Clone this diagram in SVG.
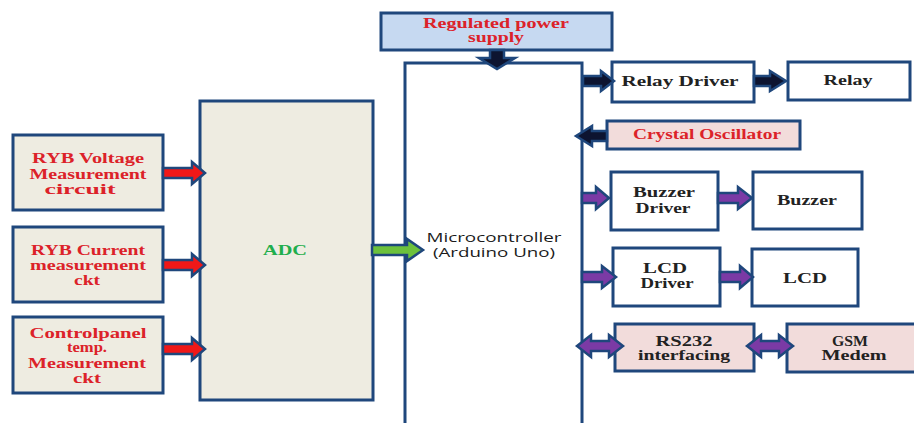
<svg xmlns="http://www.w3.org/2000/svg" width="914" height="423" viewBox="0 0 914 423">
<defs>
<style>
.box{stroke:#1f477c;stroke-width:3}
.gray{fill:#eeece1}
.white{fill:#ffffff}
.pink{fill:#f2dcdb}
.blue{fill:#c6d9f1}
.t{font-family:"Liberation Serif","Times New Roman",serif;font-weight:bold;font-size:14px;text-anchor:middle}
.red{fill:#dc2229}
.blk{fill:#222222}
.grn{fill:#1fae4c}
.sans{font-family:"Open Sans","Liberation Sans",Arial,sans-serif;font-size:12px;text-anchor:middle;fill:#1a1a1a}
.arr{stroke:#1f477c;stroke-width:2.5;stroke-linejoin:miter}
.ared{fill:#f01818}
.agrn{fill:#6cc13c}
.apur{fill:#7b3aa5}
.ablk{fill:#0d1430}
</style>
</defs>
<rect width="914" height="423" fill="#ffffff"/>

<g id="voltage">
<rect class="box gray" x="13" y="135" width="150" height="75"/>
<text class="t red" x="88" y="163" textLength="112" lengthAdjust="spacingAndGlyphs">RYB Voltage</text>
<text class="t red" x="88" y="179" textLength="117" lengthAdjust="spacingAndGlyphs">Measurement</text>
<text class="t red" x="80" y="194" textLength="71" lengthAdjust="spacingAndGlyphs">circuit</text>
</g>

<g id="current">
<rect class="box gray" x="13" y="227" width="150" height="75"/>
<text class="t red" x="88" y="255" textLength="114" lengthAdjust="spacingAndGlyphs">RYB Current</text>
<text class="t red" x="88" y="270" textLength="116" lengthAdjust="spacingAndGlyphs">measurement</text>
<text class="t red" x="87" y="285" textLength="26" lengthAdjust="spacingAndGlyphs">ckt</text>
</g>

<g id="temp">
<rect class="box gray" x="13" y="317" width="150" height="76"/>
<text class="t red" x="88" y="338" textLength="117" lengthAdjust="spacingAndGlyphs">Controlpanel</text>
<text class="t red" x="87" y="352" textLength="40" lengthAdjust="spacingAndGlyphs">temp.</text>
<text class="t red" x="87" y="368" textLength="118" lengthAdjust="spacingAndGlyphs">Measurement</text>
<text class="t red" x="87" y="383" textLength="28" lengthAdjust="spacingAndGlyphs">ckt</text>
</g>

<g id="adc">
<rect class="box gray" x="200" y="101" width="173" height="299"/>
<text class="t grn" x="285" y="255" font-size="14" textLength="44" lengthAdjust="spacingAndGlyphs">ADC</text>
</g>

<g id="power">
<rect class="box blue" x="381" y="13" width="231" height="37"/>
<text class="t red" x="496" y="28" font-size="13" textLength="146" lengthAdjust="spacingAndGlyphs">Regulated power</text>
<text class="t red" x="496" y="42" font-size="13" textLength="56" lengthAdjust="spacingAndGlyphs">supply</text>
</g>

<g id="micro">
<rect class="box white" x="405" y="63" width="177" height="380"/>
<text class="sans" x="494" y="242" textLength="135" lengthAdjust="spacingAndGlyphs">Microcontroller</text>
<text class="sans" x="494" y="257" textLength="122" lengthAdjust="spacingAndGlyphs">(Arduino Uno)</text>
</g>

<g id="relaydriver">
<rect class="box white" x="612" y="62" width="142" height="40"/>
<text class="t blk" x="680" y="86" textLength="117" lengthAdjust="spacingAndGlyphs">Relay Driver</text>
</g>

<g id="relay">
<rect class="box white" x="788" y="62" width="122" height="38"/>
<text class="t blk" x="848" y="85" textLength="49" lengthAdjust="spacingAndGlyphs">Relay</text>
</g>

<g id="crystal">
<rect class="box pink" x="607" y="121" width="193" height="28"/>
<text class="t red" x="707" y="139" textLength="148" lengthAdjust="spacingAndGlyphs">Crystal Oscillator</text>
</g>

<g id="buzzerdriver">
<rect class="box white" x="611" y="172" width="107" height="58"/>
<text class="t blk" x="664" y="197" textLength="62" lengthAdjust="spacingAndGlyphs">Buzzer</text>
<text class="t blk" x="663" y="213" textLength="55" lengthAdjust="spacingAndGlyphs">Driver</text>
</g>

<g id="buzzer">
<rect class="box white" x="753" y="172" width="109" height="57"/>
<text class="t blk" x="807" y="205" textLength="60" lengthAdjust="spacingAndGlyphs">Buzzer</text>
</g>

<g id="lcddriver">
<rect class="box white" x="613" y="248" width="107" height="58"/>
<text class="t blk" x="665" y="273" textLength="44" lengthAdjust="spacingAndGlyphs">LCD</text>
<text class="t blk" x="667" y="288" textLength="53" lengthAdjust="spacingAndGlyphs">Driver</text>
</g>

<g id="lcd">
<rect class="box white" x="752" y="249" width="106" height="57"/>
<text class="t blk" x="805" y="283" textLength="44" lengthAdjust="spacingAndGlyphs">LCD</text>
</g>

<g id="rs232">
<rect class="box pink" x="615" y="324" width="139" height="47"/>
<text class="t blk" x="684" y="346" textLength="57" lengthAdjust="spacingAndGlyphs">RS232</text>
<text class="t blk" x="684" y="360" textLength="92" lengthAdjust="spacingAndGlyphs">interfacing</text>
</g>

<g id="gsm">
<rect class="box pink" x="787" y="324" width="140" height="48"/>
<text class="t blk" x="850" y="346" textLength="36" lengthAdjust="spacingAndGlyphs">GSM</text>
<text class="t blk" x="854" y="360" textLength="65" lengthAdjust="spacingAndGlyphs">Medem</text>
</g>

<g id="connectors">
<path class="arr ared" d="M163,168 L192,168 L192,162 L205,173 L192,184 L192,178 L163,178 Z"/>
<path class="arr ared" d="M163,260 L192,260 L192,254 L205,265 L192,276 L192,270 L163,270 Z"/>
<path class="arr ared" d="M163,344 L192,344 L192,338 L205,349 L192,360 L192,354 L163,354 Z"/>
<path class="arr agrn" d="M372,245 L407,245 L407,239 L423,250 L407,261 L407,255 L372,255 Z"/>
<path class="arr ablk" d="M490,50 L504,50 L504,58 L515,58 L497,69 L479,58 L490,58 Z"/>
<path class="arr ablk" d="M583,76 L601,76 L601,71 L614,81 L601,91 L601,86 L583,86 Z"/>
<path class="arr ablk" d="M754,76 L770,76 L770,71 L786,81 L770,91 L770,86 L754,86 Z"/>
<path class="arr ablk" d="M607,131 L592,131 L592,126 L576,136 L592,146 L592,141 L607,141 Z"/>
<path class="arr apur" d="M582,193 L596,193 L596,187 L609,198 L596,209 L596,203 L582,203 Z"/>
<path class="arr apur" d="M718,193 L738,193 L738,187 L752,198 L738,209 L738,203 L718,203 Z"/>
<path class="arr apur" d="M582,272 L602,272 L602,266 L616,277 L602,288 L602,282 L582,282 Z"/>
<path class="arr apur" d="M720,272 L740,272 L740,266 L753,277 L740,288 L740,282 L720,282 Z"/>
<path class="arr apur" d="M577,346 L591,335 L591,341 L609,341 L609,335 L623,346 L609,357 L609,351 L591,351 L591,357 Z"/>
<path class="arr apur" d="M747,346 L761,335 L761,341 L779,341 L779,335 L793,346 L779,357 L779,351 L761,351 L761,357 Z"/>
</g>
</svg>
